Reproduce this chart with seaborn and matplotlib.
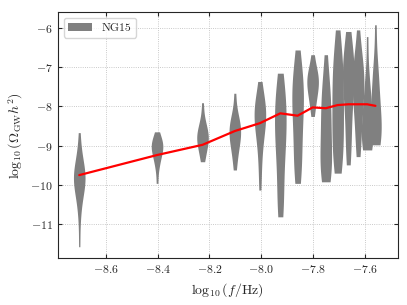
import numpy as np
import pandas as pd
import matplotlib
matplotlib.use("Agg")
import matplotlib.pyplot as plt
import seaborn as sns

# log10 of the NG15 frequency bins
log_freqs = [-8.704, -8.403, -8.227, -8.102, -8.005, -7.926, -7.859,
             -7.801, -7.750, -7.704, -7.663, -7.625, -7.590, -7.558]

# posterior quantiles of log10(Omega_GW h^2) per bin
bin01 = [-11.57, -10.9, -10.55, -10.35, -10.2, -10.1, -10.0, -9.95, -9.9, -9.85,
         -9.8, -9.75, -9.7, -9.62, -9.55, -9.45, -9.3, -9.1, -8.67]
bin02 = [-9.96, -9.6, -9.45, -9.35, -9.25, -9.18, -9.12, -9.07, -9.03, -8.99,
         -8.95, -8.9, -8.85, -8.78, -8.65]
bin03 = [-9.41, -9.3, -9.15, -9.05, -8.97, -8.9, -8.85, -8.8, -8.75, -8.7,
         -8.63, -8.55, -8.45, -8.3, -7.91]
bin04 = [-9.62, -9.35, -9.15, -9.0, -8.9, -8.8, -8.72, -8.65, -8.58, -8.5,
         -8.42, -8.32, -8.2, -7.67]
bin05 = [-10.13, -9.6, -9.2, -8.9, -8.7, -8.55, -8.42, -8.32, -8.22, -8.15,
         -8.07, -7.98, -7.88, -7.75, -7.37]
bin06 = [-10.81, -10.7, -10.5, -10.2, -9.9, -9.6, -9.3, -9.1, -8.95, -8.8,
         -8.65, -8.5, -8.35, -8.2, -8.05, -7.9, -7.75, -7.6, -7.45, -7.16]
bin07 = [-9.96, -9.8, -9.55, -9.3, -9.05, -8.8, -8.55, -8.3, -8.1, -7.95,
         -7.8, -7.65, -7.5, -7.35, -7.15, -6.95, -6.57]
bin08 = [-8.26, -8.0, -7.85, -7.72, -7.6, -7.5, -7.42, -7.35, -7.28, -7.2,
         -7.1, -6.98, -6.69]
bin09 = [-9.92, -9.85, -9.75, -9.6, -9.45, -9.3, -9.1, -8.9, -8.7, -8.5,
         -8.3, -8.1, -7.9, -7.7, -7.5, -7.3, -6.69]
bin10 = [-9.70, -9.55, -9.35, -9.15, -8.95, -8.75, -8.55, -8.35, -8.15, -7.95,
         -7.75, -7.55, -7.35, -7.15, -6.95, -6.75, -6.52, -6.06]
bin11 = [-9.49, -9.2, -8.9, -8.6, -8.3, -8.0, -7.75, -7.55, -7.4, -7.28,
         -7.17, -7.06, -6.95, -6.8, -6.6, -6.36, -6.10]
bin12 = [-9.28, -9.0, -8.7, -8.4, -8.15, -7.95, -7.8, -7.65, -7.5, -7.38,
         -7.25, -7.12, -6.98, -6.8, -6.65, -6.06]
bin13 = [-9.11, -9.08, -9.02, -8.95, -8.85, -8.75, -8.62, -8.5, -8.35, -8.2,
         -8.05, -7.9, -7.7, -7.45, -7.16, -6.23]
bin14 = [-8.98, -8.95, -8.88, -8.8, -8.7, -8.58, -8.45, -8.3, -8.15, -8.0,
         -7.8, -7.6, -7.35, -7.1, -6.91, -5.93]
bins = [bin01, bin02, bin03, bin04, bin05, bin06, bin07,
        bin08, bin09, bin10, bin11, bin12, bin13, bin14]

# red model curve
model_vals = [-9.75, -9.24, -8.98, -8.63, -8.43, -8.18, -8.24,
              -8.03, -8.05, -7.97, -7.95, -7.95, -7.95, -7.99]

rows = []
for f, vals in zip(log_freqs, bins):
    for v in vals:
        rows.append({"logf": f, "omega": v})
df = pd.DataFrame(rows)

sns.set_style("ticks")
plt.rcParams["font.family"] = "serif"
plt.rcParams["font.serif"] = ["cmr10", "DejaVu Serif"]
plt.rcParams["mathtext.fontset"] = "cm"
plt.rcParams["axes.formatter.use_mathtext"] = True

fig, ax = plt.subplots(figsize=(4.07, 3.05), dpi=100)
fig.subplots_adjust(left=0.142, right=0.977, top=0.960, bottom=0.153)

sns.violinplot(data=df, x="logf", y="omega", native_scale=True, orient="x",
               color="gray", saturation=1, linewidth=0, inner=None, cut=0,
               density_norm="width", width=1.4, ax=ax)
sns.lineplot(x=log_freqs, y=model_vals, color="red", lw=1.6, ax=ax)

ax.set_xlim(-8.787, -7.472)
ax.set_ylim(-11.865, -5.61)
ax.set_xticks([-8.6, -8.4, -8.2, -8.0, -7.8, -7.6])
ax.set_yticks([-11, -10, -9, -8, -7, -6])
ax.tick_params(direction="in", top=True, right=True, labelsize=8.5, length=3)
ax.grid(True, ls=":", color="#b8b8b8", lw=0.6)
ax.set_axisbelow(True)
ax.set_xlabel(r"$\log_{10}(f/{\rm Hz})$", fontsize=10)
ax.set_ylabel(r"$\log_{10}(\Omega_{\rm GW}h^2)$", fontsize=10)
ax.legend(handles=[ax.collections[0]], labels=["NG15"], loc="upper left",
          fontsize=8.5)

fig.savefig("out.png", dpi=100)
